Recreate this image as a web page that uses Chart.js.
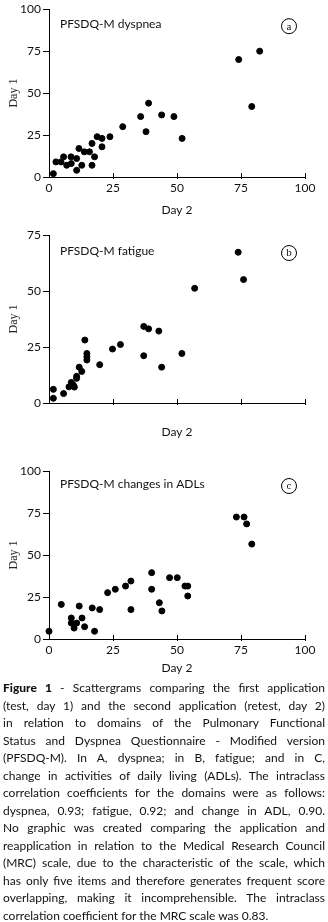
<!DOCTYPE html>
<html>
<head>
<meta charset="utf-8">
<script src="https://cdn.jsdelivr.net/npm/chart.js@4.4.1/dist/chart.umd.min.js"></script>
<style>
  html, body { margin: 0; padding: 0; background: #fff; }
  #page { position: relative; width: 328px; height: 922px; overflow: hidden; }
  .panel { position: absolute; left: 0; width: 328px; }
  #caption {
    position: absolute; left: 3px; top: 679px; width: 322px;
    font-family: Lato, "Open Sans", sans-serif; font-size: 12px; line-height: 17.5px; color: #111;
  }
  #caption div { text-align: justify; text-align-last: justify; white-space: nowrap; }
  #caption div.last { text-align-last: left; }
  #caption b { font-weight: 900; }
</style>
</head>
<body>
<div id="page">
  <div class="panel" style="top:0;height:222px"><canvas id="chartA"></canvas></div>
  <div class="panel" style="top:222px;height:222px"><canvas id="chartB"></canvas></div>
  <div class="panel" style="top:444px;height:236px"><canvas id="chartC"></canvas></div>
  <div id="caption">
    <div><b>Figure 1</b> - Scattergrams comparing the first application</div>
    <div>(test, day 1) and the second application (retest, day 2)</div>
    <div>in relation to domains of the Pulmonary Functional</div>
    <div>Status and Dyspnea Questionnaire - Modified version</div>
    <div>(PFSDQ-M). In A, dyspnea; in B, fatigue; and in C,</div>
    <div>change in activities of daily living (ADLs). The intraclass</div>
    <div>correlation coefficients for the domains were as follows:</div>
    <div>dyspnea, 0.93; fatigue, 0.92; and change in ADL, 0.90.</div>
    <div>No graphic was created comparing the application and</div>
    <div>reapplication in relation to the Medical Research Council</div>
    <div>(MRC) scale, due to the characteristic of the scale, which</div>
    <div>has only five items and therefore generates frequent score</div>
    <div>overlapping, making it incomprehensible. The intraclass</div>
    <div class="last">correlation coefficient for the MRC scale was 0.83.</div>
  </div>
</div>
<script>
// values (x = day 2, y = day 1)
const dyspneaDay2 = [1.7, 2.7, 4.7, 5.7, 6.9, 8.6, 8.7, 10.8, 10.8, 11.7, 12.8, 13.8, 15.8, 16.8, 16.8, 17.8, 18.8, 20.7, 20.7, 23.8, 28.8, 35.8, 37.9, 38.9, 44, 48.8, 52, 74.1, 79.2, 82.3];
const dyspneaDay1 = [2, 9, 9, 12, 7, 12, 8, 11, 4, 17, 7, 15, 15, 20, 7, 12, 24, 23, 18, 24, 30, 36, 27, 44, 37, 36, 23, 70, 42, 75];

const fatigueDay2 = [1.7, 1.7, 5.7, 7.8, 8.7, 9.5, 9.9, 10.8, 10.8, 11.8, 12.8, 14, 14.8, 14.8, 14.8, 19.8, 24.8, 27.9, 37, 38.9, 37, 42.9, 44, 51.9, 56.9, 73.9, 76];
const fatigueDay1 = [6.1, 2.1, 4.2, 7.2, 9.2, 8, 7.1, 11.9, 11, 16, 14.1, 28.1, 22.1, 20.6, 19.2, 17.1, 24.1, 26.1, 34.2, 33.1, 21.1, 32.1, 16, 22.1, 51.2, 67.3, 55.1];

const adlDay2 = [0, 4.8, 8.7, 8.7, 9.8, 10.8, 11.8, 12.9, 13.9, 16.9, 17.8, 19.8, 22.9, 25.9, 29.9, 32, 32, 40.1, 40.1, 43.1, 44.1, 47.1, 50.1, 53.1, 54.2, 54.2, 73.2, 76.2, 77.2, 79.2];
const adlDay1 = [4.6, 20.6, 12.5, 9.5, 6.5, 9.5, 19.6, 12.5, 7.3, 18.5, 4.6, 17.5, 27.6, 29.6, 31.5, 34.5, 17.5, 39.5, 29.6, 21.6, 16.7, 36.5, 36.5, 31.5, 31.5, 25.6, 72.6, 72.6, 68.5, 56.5];

const xTicks = [0, 25, 50, 75, 100];
const axisFont = { family: 'Lato', size: 12 };

// panel label + circled letter in the top corners, and short inward ticks on x
const panelDecor = {
    id: 'panelDecor',
    afterDraw(chart, args, opts) {
        const { ctx, chartArea } = chart;
        const x = chart.scales.x;
        ctx.save();
        ctx.strokeStyle = '#000';
        ctx.lineWidth = 1;
        xTicks.slice(1).forEach(v => {
            const px = Math.round(x.getPixelForValue(v)) + 0.5;
            ctx.beginPath();
            ctx.moveTo(px, chartArea.bottom - 4);
            ctx.lineTo(px, chartArea.bottom + 2);
            ctx.stroke();
        });
        ctx.fillStyle = '#111';
        ctx.font = '12px Lato';
        ctx.textBaseline = 'middle';
        ctx.textAlign = 'left';
        ctx.fillText(opts.label, chartArea.left + 11, chartArea.top + opts.labelDy);
        const cx = chartArea.right - 16, cy = chartArea.top + opts.labelDy + 2;
        ctx.beginPath();
        ctx.arc(cx, cy, 7.5, 0, Math.PI * 2);
        ctx.stroke();
        ctx.font = '11px "Liberation Serif"';
        ctx.textAlign = 'center';
        ctx.fillText(opts.letter, cx, cy + 0.5);
        ctx.restore();
    }
};

function makeScatter(canvasId, xs, ys, yMax, opts) {
    const points = xs.map((v, i) => ({ x: v, y: ys[i] }));
    return new Chart(document.getElementById(canvasId), {
        type: 'scatter',
        data: {
            datasets: [{
                data: points,
                backgroundColor: '#000',
                borderColor: '#000',
                pointRadius: 3,
                pointHoverRadius: 3,
                clip: false
            }]
        },
        options: {
            responsive: true,
            maintainAspectRatio: false,
            animation: false,
            layout: { padding: { top: opts.top, right: 23, left: 0, bottom: 0 } },
            plugins: {
                legend: { display: false },
                tooltip: { enabled: false },
                panelDecor: { label: opts.label, letter: opts.letter, labelDy: opts.labelDy }
            },
            scales: {
                x: {
                    min: 0,
                    max: 100,
                    afterFit: s => { s.height = opts.xHeight; },
                    border: { color: '#000', width: 1 },
                    grid: { display: false, drawTicks: false },
                    ticks: {
                        display: opts.xLabels,
                        stepSize: 25,
                        padding: 4,
                        color: '#111',
                        font: axisFont,
                        maxRotation: 0
                    },
                    title: {
                        display: true,
                        text: 'Day 2',
                        color: '#111',
                        font: axisFont,
                        padding: { top: 0, bottom: 5 }
                    }
                },
                y: {
                    min: 0,
                    max: yMax,
                    afterFit: s => { s.width = 49; },
                    border: { color: '#000', width: 1 },
                    grid: { drawOnChartArea: false, tickLength: 6, color: '#000' },
                    ticks: {
                        stepSize: 25,
                        padding: 2,
                        color: '#111',
                        font: axisFont
                    },
                    title: {
                        display: true,
                        text: 'Day 1',
                        color: '#222',
                        font: { family: 'Liberation Serif', size: 12 },
                        padding: { top: 7, bottom: 0 }
                    }
                }
            }
        },
        plugins: [panelDecor]
    });
}

makeScatter('chartA', dyspneaDay2, dyspneaDay1, 100,
    { top: 8, xHeight: 45, xLabels: true, label: 'PFSDQ-M dyspnea', letter: 'a', labelDy: 15 });
makeScatter('chartB', fatigueDay2, fatigueDay1, 75,
    { top: 13, xHeight: 41, xLabels: false, label: 'PFSDQ-M fatigue', letter: 'b', labelDy: 16 });
makeScatter('chartC', adlDay2, adlDay1, 100,
    { top: 27, xHeight: 41, xLabels: true, label: 'PFSDQ-M changes in ADLs', letter: 'c', labelDy: 13 });
</script>
</body>
</html>
